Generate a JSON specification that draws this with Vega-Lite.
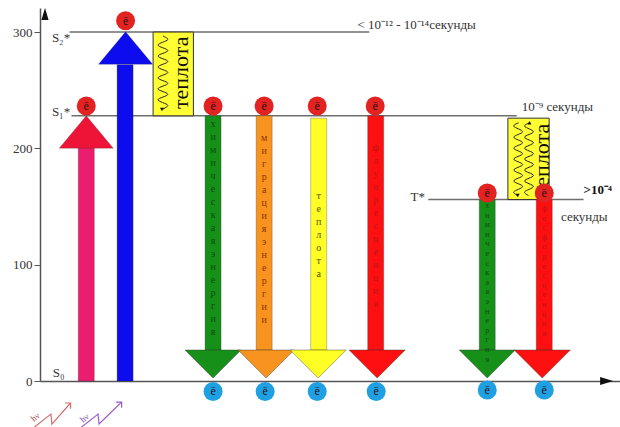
{
 "$schema": "https://vega.github.io/schema/vega-lite/v6.json",
 "width": 580, "height": 373,
 "autosize": {"type": "none"},
 "padding": {"left": 40, "top": 8, "right": 0, "bottom": 46},
 "background": "white",
 "config": {"view": {"stroke": null}},
 "datasets": {
  "levels": [{"x": 25, "x2": 330, "y": 300}, {"x": 27, "x2": 480, "y": 228}, {"x": 390, "x2": 548, "y": 156}],
  "boxes": [{"x": 110, "x2": 151, "y": 228, "y2": 300}, {"x": 471, "x2": 513, "y": 156, "y2": 226}],
  "waves": [
   {"w": "a", "i": 0, "x": 120, "y": 296.5}, {"w": "a", "i": 1, "x": 125, "y": 293.5}, {"w": "a", "i": 2, "x": 115, "y": 288.8},
   {"w": "a", "i": 3, "x": 125, "y": 284.1}, {"w": "a", "i": 4, "x": 115, "y": 279.4}, {"w": "a", "i": 5, "x": 125, "y": 274.7},
   {"w": "a", "i": 6, "x": 115, "y": 270.0}, {"w": "a", "i": 7, "x": 125, "y": 265.3}, {"w": "a", "i": 8, "x": 115, "y": 260.6},
   {"w": "a", "i": 9, "x": 125, "y": 255.9}, {"w": "a", "i": 10, "x": 115, "y": 251.2}, {"w": "a", "i": 11, "x": 125, "y": 246.5},
   {"w": "a", "i": 12, "x": 115, "y": 241.8}, {"w": "a", "i": 13, "x": 125, "y": 237.1}, {"w": "a", "i": 14, "x": 119, "y": 233.5},
   {"w": "b", "i": 0, "x": 482, "y": 222}, {"w": "b", "i": 1, "x": 477, "y": 219}, {"w": "b", "i": 2, "x": 486, "y": 214.3},
   {"w": "b", "i": 3, "x": 477, "y": 209.6}, {"w": "b", "i": 4, "x": 486, "y": 204.9}, {"w": "b", "i": 5, "x": 477, "y": 200.2},
   {"w": "b", "i": 6, "x": 486, "y": 195.5}, {"w": "b", "i": 7, "x": 477, "y": 190.8}, {"w": "b", "i": 8, "x": 486, "y": 186.1},
   {"w": "b", "i": 9, "x": 477, "y": 181.4}, {"w": "b", "i": 10, "x": 486, "y": 176.7}, {"w": "b", "i": 11, "x": 477, "y": 172.0},
   {"w": "b", "i": 12, "x": 486, "y": 167.3}, {"w": "b", "i": 13, "x": 477, "y": 162.6}, {"w": "b", "i": 14, "x": 481, "y": 159.5},
   {"w": "c", "i": 0, "x": 493, "y": 222}, {"w": "c", "i": 1, "x": 488, "y": 219}, {"w": "c", "i": 2, "x": 497, "y": 214.3},
   {"w": "c", "i": 3, "x": 488, "y": 209.6}, {"w": "c", "i": 4, "x": 497, "y": 204.9}, {"w": "c", "i": 5, "x": 488, "y": 200.2},
   {"w": "c", "i": 6, "x": 497, "y": 195.5}, {"w": "c", "i": 7, "x": 488, "y": 190.8}, {"w": "c", "i": 8, "x": 497, "y": 186.1},
   {"w": "c", "i": 9, "x": 488, "y": 181.4}, {"w": "c", "i": 10, "x": 497, "y": 176.7}, {"w": "c", "i": 11, "x": 488, "y": 172.0},
   {"w": "c", "i": 12, "x": 497, "y": 167.3}, {"w": "c", "i": 13, "x": 488, "y": 162.6}, {"w": "c", "i": 14, "x": 492, "y": 159.5}
  ],
  "waveHeads": [{"x": 119, "y": 233.5, "d": "down"}, {"x": 481, "y": 159.5, "d": "down"}, {"x": 493, "y": 222, "d": "up"}],
  "heatText": [{"x": 138, "y": 265, "t": "теплота"}, {"x": 506, "y": 190, "t": "теплота"}],
  "shafts": [
   {"k": "pink", "x": 42, "y": 0, "y2": 203},
   {"k": "blue", "x": 81.5, "y": 0, "y2": 272},
   {"k": "green", "x": 171, "y": 26.7, "y2": 228},
   {"k": "orange", "x": 223, "y": 26.7, "y2": 228},
   {"k": "yellow", "x": 278.5, "y": 26.7, "y2": 226},
   {"k": "red", "x": 336.5, "y": 26.7, "y2": 228},
   {"k": "green", "x": 450, "y": 26.7, "y2": 156},
   {"k": "red", "x": 508, "y": 26.7, "y2": 156}
  ],
  "upHeads": [{"k": "red1", "x": 42, "y": 214.1}, {"k": "blue", "x": 82, "y": 286.3}],
  "downHeads": [
   {"k": "green", "x": 171, "y": 14.6}, {"k": "orange", "x": 225, "y": 14.6}, {"k": "yellow", "x": 278, "y": 14.6},
   {"k": "red", "x": 338, "y": 14.6}, {"k": "green", "x": 450, "y": 14.6}, {"k": "red", "x": 506, "y": 14.6}
  ],
  "stack1": [
   {"k": "green", "x": 171, "y": 225.3, "t": "х|и|м|и|ч|е|с|к|а|я| |э|н|е|р|г|и|я"},
   {"k": "orange", "x": 223, "y": 213.2, "t": "м|и|г|р|а|ц|и|я| |э|н|е|р|г|и|и"},
   {"k": "yellow", "x": 278.5, "y": 163.4, "t": "т|е|п|л|о|т|а"},
   {"k": "red", "x": 336.5, "y": 204.6, "t": "ф|л|у|о|р|е|с|ц|е|н|ц|и|я"}
  ],
  "stack2": [
   {"k": "green", "x": 450, "y": 153.9, "t": "х|и|м|и|ч|е|с|к|а|я| |э|н|е|р|г|и|я"},
   {"k": "red", "x": 508, "y": 151.3, "t": "ф|о|с|ф|о|р|е|с|ц|е|н|ц|и|я"}
  ],
  "electrons": [
   {"k": "top", "x": 42, "y": 236.4}, {"k": "top", "x": 82, "y": 309.8}, {"k": "top", "x": 171, "y": 236.4},
   {"k": "top", "x": 223, "y": 236.4}, {"k": "top", "x": 277, "y": 236.4}, {"k": "top", "x": 336, "y": 236.4},
   {"k": "top", "x": 450, "y": 161.7}, {"k": "top", "x": 508, "y": 161.7},
   {"k": "bot", "x": 171, "y": -9}, {"k": "bot", "x": 224, "y": -9}, {"k": "bot", "x": 277, "y": -9},
   {"k": "bot", "x": 337, "y": -9}, {"k": "bot", "x": 450, "y": -7.7}, {"k": "bot", "x": 508, "y": -7.7}
  ],
  "labels": [
   {"x": 7, "y": 295, "t": "S₂*"}, {"x": 7, "y": 231, "t": "S₁*"}, {"x": 8, "y": 7, "t": "S₀"}, {"x": 372, "y": 158, "t": "T*"},
   {"x": 318, "y": 306, "t": "< 10⁻¹² - 10⁻¹⁴секунды"}, {"x": 485, "y": 236, "t": "10⁻⁹  секунды"},
   {"x": 525, "y": 141, "t": "секунды"}
  ],
  "bold": [{"x": 548, "y": 164, "t": ">10⁻⁴"}],
  "zig": [
   {"z": "z1", "i": 0, "x": -12, "y": -40.4}, {"z": "z1", "i": 1, "x": 6, "y": -28.4}, {"z": "z1", "i": 2, "x": 7, "y": -37.0}, {"z": "z1", "i": 3, "x": 26, "y": -18.9},
   {"z": "z2", "i": 0, "x": 36, "y": -40.4}, {"z": "z2", "i": 1, "x": 54, "y": -28.4}, {"z": "z2", "i": 2, "x": 55, "y": -37.0}, {"z": "z2", "i": 3, "x": 78, "y": -18.1}
  ],
  "zigHeads": [{"z": "z1", "x": 26, "y": -18.9}, {"z": "z2", "x": 78, "y": -18.1}],
  "hv": [{"z": "z1", "x": -10, "y": -31, "t": "hν"}, {"z": "z2", "x": 40, "y": -31.8, "t": "hν"}],
  "yArrow": [{"x": 0, "y": 315.6}],
  "xArrow": [{"x": 571.5, "y": 0}]
 },
 "encoding": {
  "x": {"field": "x", "type": "quantitative", "scale": {"domain": [0, 580], "nice": false, "zero": false},
        "axis": {"labels": false, "ticks": false, "grid": false, "title": null, "domainColor": "#555", "domainWidth": 1.5}},
  "y": {"field": "y", "type": "quantitative", "scale": {"domain": [0, 320.7], "nice": false, "zero": false},
        "axis": {"values": [0, 100, 200, 300], "grid": false, "title": null, "labelFont": "Liberation Serif", "labelFontSize": 13,
                 "labelColor": "#333", "tickSize": 6, "tickColor": "#555", "domainColor": "#555", "domainWidth": 1.5, "labelPadding": 2}}
 },
 "layer": [
  {"data": {"name": "levels"}, "mark": {"type": "rule", "color": "#6e6e6e", "strokeWidth": 1.5}, "encoding": {"x2": {"field": "x2"}}},
  {"data": {"name": "boxes"}, "mark": {"type": "rect", "fill": "#ffff33", "stroke": "#333", "strokeWidth": 1}, "encoding": {"x2": {"field": "x2"}, "y2": {"field": "y2"}}},
  {"data": {"name": "waves"}, "mark": {"type": "line", "interpolate": "cardinal", "color": "#222", "strokeWidth": 1},
   "encoding": {"detail": {"field": "w"}, "order": {"field": "i", "type": "quantitative"}}},
  {"data": {"name": "waveHeads"}, "mark": {"type": "point", "filled": true, "color": "#111", "size": 16, "opacity": 1},
   "encoding": {"shape": {"field": "d", "type": "nominal", "scale": {"domain": ["down", "up"], "range": ["triangle-down", "triangle-up"]}, "legend": null}}},
  {"data": {"name": "heatText"}, "mark": {"type": "text", "font": "Liberation Serif", "angle": 270, "fontSize": 22, "color": "#111", "align": "center", "baseline": "middle"},
   "encoding": {"text": {"field": "t"}}},
  {"data": {"name": "shafts"}, "mark": {"type": "bar", "width": 16, "stroke": "#333", "strokeWidth": 0.6, "strokeOpacity": 0.5},
   "encoding": {"y2": {"field": "y2"},
    "fill": {"field": "k", "type": "nominal", "legend": null, "scale": {"domain": ["pink", "red1", "blue", "green", "orange", "yellow", "red", "top", "bot"], "range": ["#ec1c6e", "#ee1438", "#0c0cef", "#169019", "#f7931e", "#ffff26", "#fe1010", "#e32222", "#1ea0e2"]}}}},
  {"data": {"name": "upHeads"}, "mark": {"type": "point", "filled": true, "opacity": 1, "shape": "M0,-0.6L1,0.6L-1,0.6Z", "size": 2916, "stroke": "#333", "strokeWidth": 0.6, "strokeOpacity": 0.4},
   "encoding": {"fill": {"field": "k", "type": "nominal", "legend": null, "scale": {"domain": ["pink", "red1", "blue", "green", "orange", "yellow", "red", "top", "bot"], "range": ["#ec1c6e", "#ee1438", "#0c0cef", "#169019", "#f7931e", "#ffff26", "#fe1010", "#e32222", "#1ea0e2"]}}}},
  {"data": {"name": "downHeads"}, "mark": {"type": "point", "filled": true, "opacity": 1, "shape": "M-1,-0.5L1,-0.5L0,0.5Z", "size": 3136, "stroke": "#333", "strokeWidth": 0.7, "strokeOpacity": 0.6},
   "encoding": {"fill": {"field": "k", "type": "nominal", "legend": null}}},
  {"data": {"name": "stack1"}, "mark": {"type": "text", "font": "Liberation Serif", "lineBreak": "|", "fontSize": 10, "lineHeight": 13, "align": "center", "baseline": "top"},
   "encoding": {"text": {"field": "t"},
    "color": {"field": "k", "type": "nominal", "legend": null, "scale": {"domain": ["green", "orange", "yellow", "red", "z1", "z2"], "range": ["#0b4d0b", "#8c3300", "#5a5000", "#b81515", "#a84848", "#7a4aa8"]}}}},
  {"data": {"name": "stack2"}, "mark": {"type": "text", "font": "Liberation Serif", "lineBreak": "|", "fontSize": 8, "lineHeight": 9.6, "align": "center", "baseline": "top"},
   "encoding": {"text": {"field": "t"}, "color": {"field": "k", "type": "nominal", "legend": null}}},
  {"data": {"name": "electrons"}, "mark": {"type": "point", "shape": "circle", "filled": true, "opacity": 1, "size": 361, "strokeWidth": 0},
   "encoding": {"fill": {"field": "k", "type": "nominal", "legend": null}}},
  {"data": {"name": "electrons"}, "mark": {"type": "text", "font": "Liberation Serif", "text": "ē", "fontSize": 12, "color": "#2a1010", "align": "center", "baseline": "middle"}},
  {"data": {"name": "labels"}, "mark": {"type": "text", "font": "Liberation Serif", "fontSize": 13, "color": "#333", "align": "left", "baseline": "middle"},
   "encoding": {"text": {"field": "t"}}},
  {"data": {"name": "bold"}, "mark": {"type": "text", "font": "Liberation Serif", "fontSize": 13, "fontWeight": "bold", "color": "#111", "align": "left", "baseline": "middle"},
   "encoding": {"text": {"field": "t"}}},
  {"data": {"name": "zig"}, "mark": {"type": "line", "strokeWidth": 1.2},
   "encoding": {"stroke": {"field": "z", "type": "nominal", "legend": null, "scale": {"domain": ["z1", "z2"], "range": ["#cf6f6f", "#9c5fd0"]}}, "order": {"field": "i", "type": "quantitative"}}},
  {"data": {"name": "zigHeads"}, "mark": {"type": "point", "filled": false, "opacity": 1, "shape": "M-1,-1L0,0L-1,1", "size": 64, "angle": -45, "strokeWidth": 1.2},
   "encoding": {"stroke": {"field": "z", "type": "nominal", "legend": null}}},
  {"data": {"name": "hv"}, "mark": {"type": "text", "font": "Liberation Serif", "angle": -40, "fontSize": 9, "align": "center", "baseline": "middle"},
   "encoding": {"text": {"field": "t"}, "color": {"field": "z", "type": "nominal", "legend": null}}},
  {"data": {"name": "yArrow"}, "mark": {"type": "point", "filled": true, "opacity": 1, "color": "#111", "shape": "M0,-1L0.6,1L-0.6,1Z", "size": 144}},
  {"data": {"name": "xArrow"}, "mark": {"type": "point", "filled": true, "opacity": 1, "color": "#111", "shape": "M1,0L-1,-0.6L-1,0.6Z", "size": 169}}
 ]
}
